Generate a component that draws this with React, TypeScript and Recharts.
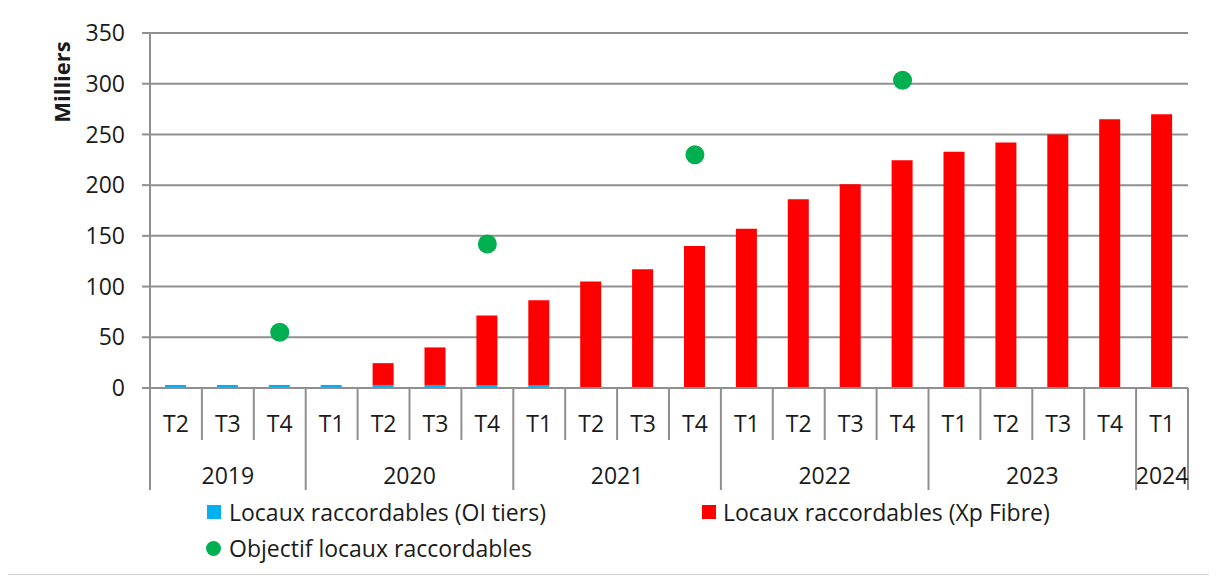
import React from 'react';
import { ComposedChart, Bar, Line, XAxis, YAxis, CartesianGrid } from 'recharts';

const quarters = ['T2', 'T3', 'T4', 'T1', 'T2', 'T3', 'T4', 'T1', 'T2', 'T3', 'T4', 'T1', 'T2', 'T3', 'T4', 'T1', 'T2', 'T3', 'T4', 'T1'];
const years = ['2019', '2019', '2019', '2020', '2020', '2020', '2020', '2021', '2021', '2021', '2021', '2022', '2022', '2022', '2022', '2023', '2023', '2023', '2023', '2024'];
const oiTiers = [3, 3, 3, 3, 3, 3, 3, 3, 0, 0, 0, 0, 0, 0, 0, 0, 0, 0, 0, 0];
const xpFibre = [0, 0, 0, 0, 21.5, 37, 68.5, 83.5, 105, 117, 140, 157, 186, 201, 224.5, 233, 242, 250, 265, 270];
const objectif = [null, null, 55, null, null, null, 142, null, null, null, 230, null, null, null, 303.5, null, null, null, null, null];
const yTicks = [0, 50, 100, 150, 200, 250, 300, 350];
const nameOi = 'Locaux raccordables (OI tiers)';
const nameXp = 'Locaux raccordables (Xp Fibre)';
const nameObj = 'Objectif locaux raccordables';

const data = quarters.map((q, i) => ({
  key: `${years[i]}-${q}`,
  oi: oiTiers[i],
  xp: xpFibre[i],
  obj: objectif[i],
}));

const W = 1202;
const H = 566;
const Y_AXIS_W = 60;
const M = { top: 25, left: 143 - Y_AXIS_W, right: 21, bottom: 76 };
const X_AXIS_H = 110;
const GRID = '#8f8f8f';
const TXT = '#1a1a1a';
const FONT = "'Open Sans', sans-serif";

const AxisTick = (props: any) => {
  const { x, y, payload } = props;
  const i: number = payload?.index ?? props.index ?? 0;
  const half: number = payload?.offset ?? (W - 143 - M.right) / quarters.length / 2;
  const lastOfYear = i === quarters.length - 1 || years[i + 1] !== years[i];
  const firstOfYear = i === 0 || years[i - 1] !== years[i];
  let groupLen = 0;
  if (firstOfYear) {
    for (let j = i; j < years.length && years[j] === years[i]; j++) groupLen++;
  }
  const right = x + half;
  return (
    <g>
      <text x={x} y={y + 35} textAnchor="middle" dominantBaseline="central" fontSize={23} fill={TXT} fontFamily={FONT}>
        {quarters[i]}
      </text>
      {i === 0 && <line x1={x - half} x2={x - half} y1={y} y2={y + 102} stroke={GRID} strokeWidth={2} />}
      <line x1={right} x2={right} y1={y} y2={y + (lastOfYear ? 102 : 52)} stroke={GRID} strokeWidth={2} />
      {firstOfYear && (
        <text x={x - half + groupLen * half} y={y + 87} textAnchor="middle" dominantBaseline="central" fontSize={23} fill={TXT} fontFamily={FONT}>
          {years[i]}
        </text>
      )}
    </g>
  );
};

const legendText: React.CSSProperties = { fontSize: 23, color: TXT, fontFamily: FONT, whiteSpace: 'nowrap', lineHeight: '30px' };

export default function App() {
  return (
    <div
      style={{
        position: 'relative',
        marginLeft: -2,
        marginTop: -1,
        width: W + 2,
        height: H + 2,
        border: '1px solid #d0d0d0',
        boxSizing: 'border-box',
        fontFamily: FONT,
        background: '#fff',
      }}
    >
      <div style={{ position: 'absolute', left: 0, top: 0 }}>
        <ComposedChart width={W} height={H} data={data} margin={M}>
          <CartesianGrid horizontal vertical={false} stroke={GRID} strokeWidth={2} />
          <YAxis
            width={Y_AXIS_W}
            domain={[0, 350]}
            ticks={yTicks}
            interval={0}
            tickSize={8}
            tickMargin={17}
            axisLine={{ stroke: GRID, strokeWidth: 2 }}
            tickLine={{ stroke: GRID, strokeWidth: 2 }}
            tick={{ fontSize: 23, fill: TXT, fontFamily: FONT }}
          />
          <XAxis
            dataKey="key"
            height={X_AXIS_H}
            interval={0}
            tickSize={0}
            tickMargin={0}
            axisLine={{ stroke: GRID, strokeWidth: 2 }}
            tickLine={false}
            tick={<AxisTick />}
          />
          <Bar dataKey="oi" name={nameOi} stackId="a" fill="#00b0f0" barSize={21} isAnimationActive={false} />
          <Bar dataKey="xp" name={nameXp} stackId="a" fill="#ff0000" barSize={21} isAnimationActive={false} />
          <Line
            dataKey="obj"
            name={nameObj}
            stroke="none"
            dot={{ r: 9.5, fill: '#00b050', stroke: 'none' }}
            activeDot={false}
            isAnimationActive={false}
          />
        </ComposedChart>
      </div>
      <div
        style={{
          position: 'absolute',
          left: 54,
          top: 74,
          transform: 'translate(-50%, -50%) rotate(-90deg)',
          fontSize: 22,
          fontWeight: 700,
          color: TXT,
          whiteSpace: 'nowrap',
        }}
      >
        Milliers
      </div>
      <div style={{ position: 'absolute', left: 200, top: 489, display: 'flex', alignItems: 'center' }}>
        <span style={{ width: 14, height: 14, background: '#00b0f0', marginRight: 8, display: 'inline-block' }} />
        <span style={legendText}>{nameOi}</span>
      </div>
      <div style={{ position: 'absolute', left: 695, top: 489, display: 'flex', alignItems: 'center' }}>
        <span style={{ width: 14, height: 14, background: '#ff0000', marginRight: 7, display: 'inline-block' }} />
        <span style={legendText}>{nameXp}</span>
      </div>
      <div style={{ position: 'absolute', left: 199, top: 525, display: 'flex', alignItems: 'center' }}>
        <span style={{ width: 15, height: 15, borderRadius: '50%', background: '#00b050', marginRight: 8, display: 'inline-block' }} />
        <span style={legendText}>{nameObj}</span>
      </div>
    </div>
  );
}
